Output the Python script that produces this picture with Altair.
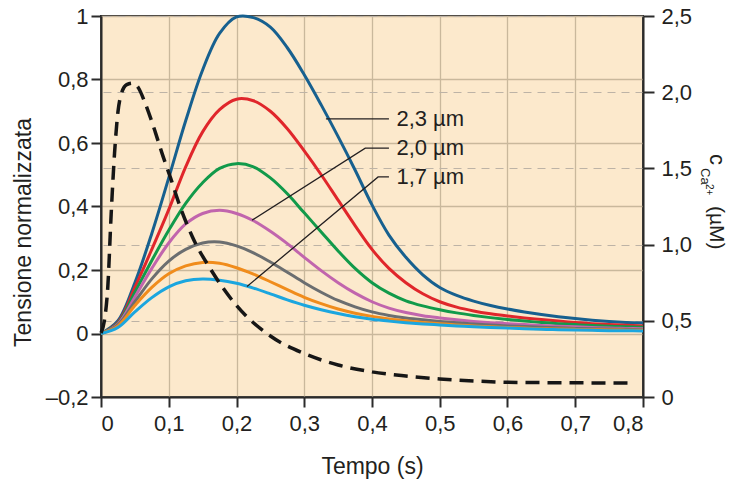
import altair as alt
import pandas as pd

FONT = "Liberation Sans"
INK = "#231f20"

# Sample times (s) shared by the tension curves
tempo = [0, 0.025, 0.05, 0.075, 0.1, 0.125, 0.15, 0.175, 0.2, 0.225, 0.25, 0.275,
         0.3, 0.325, 0.35, 0.375, 0.4, 0.425, 0.45, 0.475, 0.5, 0.525, 0.55, 0.575,
         0.6, 0.625, 0.65, 0.675, 0.7, 0.725, 0.75, 0.775, 0.8]

# Sarcomere lengths and their colours
serie = ["2,3 µm", "2,2 µm", "2,1 µm", "2,0 µm", "1,9 µm", "1,8 µm", "1,7 µm"]
colori = ["#17608f", "#e0262b", "#119a4a", "#c165ad", "#6b6e70", "#f08c1c", "#1ba6df"]

# Normalised tension, one list per sarcomere length
tens_23 = [0, 0.04, 0.16, 0.315, 0.49, 0.67, 0.83, 0.945, 0.997, 0.995, 0.965, 0.9,
           0.815, 0.72, 0.62, 0.515, 0.405, 0.31, 0.24, 0.185, 0.145, 0.12, 0.102, 0.088,
           0.077, 0.068, 0.06, 0.053, 0.047, 0.042, 0.038, 0.035, 0.033]
tens_22 = [0, 0.035, 0.145, 0.265, 0.39, 0.525, 0.635, 0.705, 0.738, 0.733, 0.70, 0.645,
           0.575, 0.50, 0.42, 0.34, 0.265, 0.205, 0.16, 0.125, 0.1, 0.083, 0.071, 0.062,
           0.055, 0.049, 0.044, 0.039, 0.035, 0.031, 0.028, 0.026, 0.024]
tens_21 = [0, 0.032, 0.13, 0.23, 0.325, 0.41, 0.475, 0.52, 0.535, 0.525, 0.49, 0.44,
           0.38, 0.32, 0.26, 0.205, 0.16, 0.127, 0.103, 0.087, 0.075, 0.065, 0.057, 0.05,
           0.044, 0.039, 0.035, 0.031, 0.028, 0.025, 0.023, 0.021, 0.02]
tens_20 = [0, 0.03, 0.115, 0.205, 0.285, 0.345, 0.378, 0.388, 0.378, 0.355, 0.322, 0.283,
           0.24, 0.198, 0.16, 0.127, 0.1, 0.08, 0.066, 0.056, 0.049, 0.043, 0.038, 0.034,
           0.031, 0.028, 0.025, 0.023, 0.021, 0.019, 0.017, 0.016, 0.015]
tens_19 = [0, 0.027, 0.1, 0.172, 0.228, 0.265, 0.285, 0.288, 0.276, 0.254, 0.225, 0.193,
           0.16, 0.13, 0.104, 0.084, 0.068, 0.057, 0.049, 0.043, 0.038, 0.034, 0.03, 0.027,
           0.024, 0.022, 0.02, 0.018, 0.016, 0.015, 0.014, 0.013, 0.012]
tens_18 = [0, 0.024, 0.088, 0.145, 0.188, 0.213, 0.224, 0.221, 0.207, 0.187, 0.163, 0.138,
           0.114, 0.094, 0.077, 0.064, 0.054, 0.046, 0.04, 0.035, 0.031, 0.027, 0.024, 0.021,
           0.019, 0.017, 0.015, 0.014, 0.013, 0.012, 0.011, 0.0105, 0.01]
tens_17 = [0, 0.019, 0.068, 0.113, 0.147, 0.166, 0.172, 0.168, 0.158, 0.143, 0.125, 0.106,
           0.089, 0.075, 0.063, 0.053, 0.045, 0.039, 0.034, 0.03, 0.027, 0.024, 0.021, 0.019,
           0.017, 0.015, 0.013, 0.012, 0.011, 0.01, 0.009, 0.0085, 0.008]

# Intracellular calcium transient (µM)
tempo_ca = [0, 0.005, 0.01, 0.015, 0.02, 0.025, 0.03, 0.038, 0.047, 0.055, 0.065, 0.08,
            0.09, 0.104, 0.112, 0.135, 0.163, 0.2, 0.25, 0.3, 0.35, 0.4, 0.45, 0.5,
            0.55, 0.6, 0.7, 0.785]
calcio = [0.42, 0.5, 0.72, 1.2, 1.6, 1.87, 1.99, 2.05, 2.06, 2.03, 1.93, 1.74,
          1.6, 1.42, 1.31, 1.05, 0.83, 0.6, 0.40, 0.285, 0.21, 0.165, 0.138, 0.118,
          0.105, 0.097, 0.093, 0.092]

# Callout leaders (time, tension) and their labels
etichette = ["2,3 µm", "2,0 µm", "1,7 µm"]
leader_id = ["2,3", "2,3", "2,0", "2,0", "2,0", "1,7", "1,7", "1,7"]
leader_t = [0.332, 0.425, 0.223, 0.39, 0.425, 0.2155, 0.409, 0.425]
leader_v = [0.676, 0.676, 0.357, 0.584, 0.584, 0.148, 0.493, 0.493]
etichette_t = [0.436, 0.436, 0.436]
etichette_v = [0.676, 0.584, 0.493]

x_ticks = [0, 0.1, 0.2, 0.3, 0.4, 0.5, 0.6, 0.7, 0.8]
y_ticks = [-0.2, 0, 0.2, 0.4, 0.6, 0.8, 1]
ca_ticks = [0, 0.5, 1.0, 1.5, 2.0, 2.5]

curve_lists = [tens_23, tens_22, tens_21, tens_20, tens_19, tens_18, tens_17]
df = pd.DataFrame([
    {"t": tt, "v": vv, "serie": s, "ordine": i}
    for i, (s, vals) in enumerate(zip(serie, curve_lists))
    for tt, vv in zip(tempo, vals)
])
df_ca = pd.DataFrame({"t": tempo_ca, "c": calcio})
df_lead = pd.DataFrame({"id": leader_id, "t": leader_t, "v": leader_v})
df_lab = pd.DataFrame({"testo": etichette, "t": etichette_t, "v": etichette_v})

x_enc = alt.X(
    "t:Q",
    scale=alt.Scale(domain=[0, 0.8], nice=False),
    axis=alt.Axis(
        values=x_ticks, title="Tempo (s)",
        labelExpr="datum.value == 0 ? '0' : replace(format(datum.value, '.1f'), '.', ',')",
        grid=True, gridColor="#c9b89c", gridWidth=1.3,
        tickSize=10, labelPadding=6,
        titleY=76, titleBaseline="alphabetic",
    ),
)

y_enc = alt.Y(
    "v:Q",
    scale=alt.Scale(domain=[-0.2, 1], nice=False, zero=False),
    axis=alt.Axis(
        orient="left", values=y_ticks, title="Tensione normalizzata",
        labelExpr=("datum.value < 0 ? '–' + replace(format(-datum.value, '.1f'), '.', ',') : "
                   "replace(format(datum.value, '.1~f'), '.', ',')"),
        grid=True, gridColor="#c9b89c", gridWidth=1.3,
        tickSize=10, labelPadding=3,
        titleFontSize=23, titleAngle=270, titleX=-71, titleY=216,
        titleBaseline="alphabetic", titleAlign="center",
    ),
)

curves = alt.Chart(df).mark_line(interpolate="catmull-rom", strokeWidth=3).encode(
    x=x_enc,
    y=y_enc,
    color=alt.Color("serie:N", scale=alt.Scale(domain=serie, range=colori), legend=None),
    order=alt.Order("ordine:Q"),
)

leaders = alt.Chart(df_lead).mark_line(color=INK, strokeWidth=1.3).encode(
    x=x_enc, y=y_enc, detail="id:N"
)

labels = alt.Chart(df_lab).mark_text(
    align="left", baseline="middle", fontSize=22, font=FONT, color=INK
).encode(x=x_enc, y=y_enc, text="testo:N")

tension = alt.layer(curves, leaders, labels)

calcium = alt.Chart(df_ca).mark_line(
    interpolate="monotone", strokeDash=[14, 8], strokeWidth=3.5, color="#161616"
).encode(
    x=x_enc,
    y=alt.Y(
        "c:Q",
        scale=alt.Scale(domain=[0, 2.5], nice=False),
        axis=alt.Axis(
            orient="right", values=ca_ticks, title=None,
            labelExpr="datum.value == 0 ? '0' : replace(format(datum.value, '.1f'), '.', ',')",
            grid=True, gridColor="#bdb3a6", gridWidth=1.2, gridDash=[8, 6],
            tickSize=11, labelPadding=7,
        ),
    ),
)

# Right-hand axis title: c with subscript Ca and superscript 2+, then (µM)
one = pd.DataFrame({"k": [0]})


def title_piece(text, size, px, py):
    return alt.Chart(one).mark_text(
        text=text, angle=90, align="left", baseline="alphabetic",
        fontSize=size, font=FONT, color=INK,
    ).encode(x=alt.value(px), y=alt.value(py))


right_title = [
    title_piece("c", 22, 609, 138),
    title_piece("Ca", 13, 600, 152),
    title_piece("2+", 10, 605, 168),
    title_piece("(µM)", 21, 609, 190),
]

chart = alt.layer(tension, calcium, *right_title).resolve_scale(
    y="independent"
).properties(
    width=542,
    height=381,
    padding={"left": 101, "top": 16, "right": 86, "bottom": 83},
    autosize=alt.AutoSizeParams(type="none"),
).configure(
    background="white"
).configure_view(
    fill="#fce9cc", stroke="#2b2b2b", strokeWidth=2
).configure_axis(
    domainColor="#2b2b2b", domainWidth=2,
    tickColor="#2b2b2b", tickWidth=2,
    labelFont=FONT, labelFontSize=22, labelColor=INK,
    titleFont=FONT, titleFontSize=23, titleFontWeight="normal", titleColor=INK,
)

chart.save("out.html", embed_options={"renderer": "svg", "actions": False})
